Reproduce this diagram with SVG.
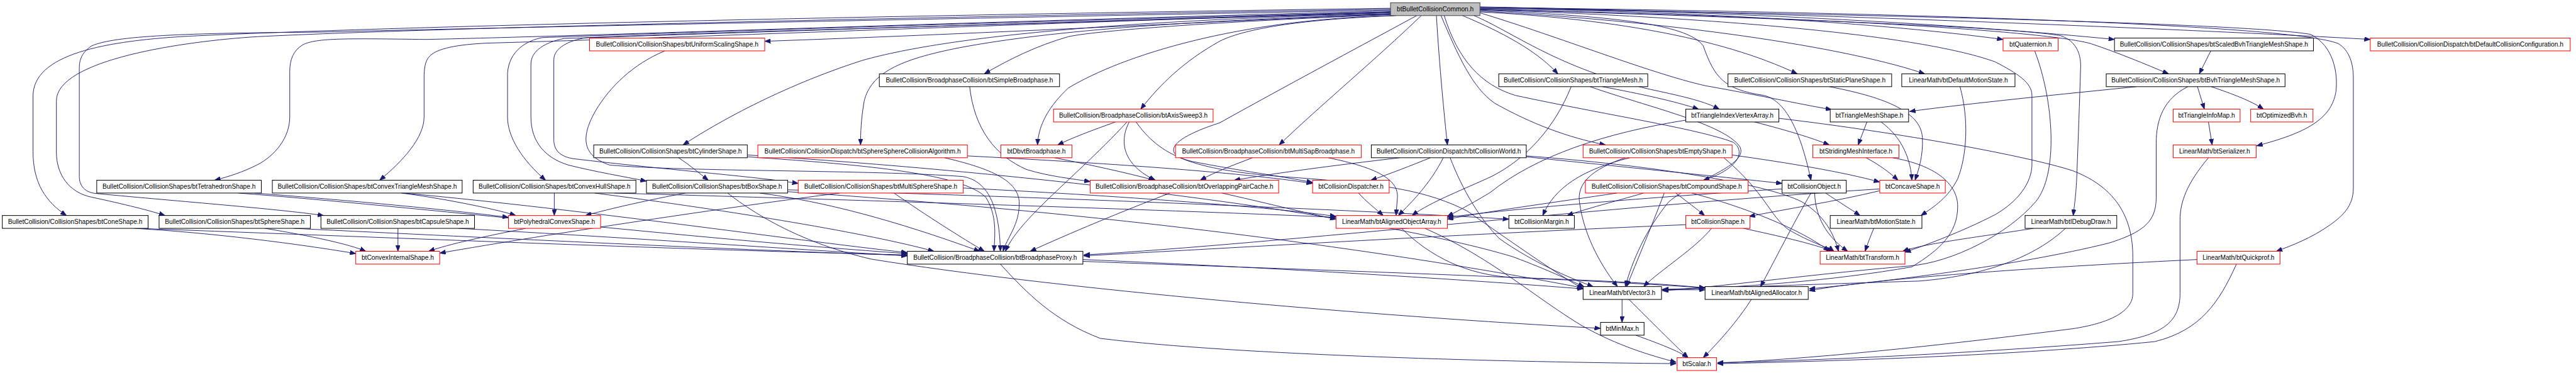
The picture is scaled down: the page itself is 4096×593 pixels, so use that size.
<svg xmlns="http://www.w3.org/2000/svg" width="4096" height="593" viewBox="0 0 4096 593">
<defs>
<marker id="a" markerUnits="userSpaceOnUse" markerWidth="13" markerHeight="10" refX="13" refY="5" orient="auto" viewBox="0 0 13 10"><path d="M0,0L13,5L0,10z" fill="#191970" stroke="#191970" stroke-width="1"/></marker>
</defs>
<style>
.e path{fill:none;stroke:#191970;stroke-width:1.3;marker-end:url(#a)}
.n rect{fill:#fff;stroke:#000;stroke-width:1.4}
.n.r rect{stroke:#ff0000}
.n.t rect{fill:#bfbfbf;stroke:#404040}
.n text{font-family:'Liberation Sans',Arial,sans-serif;font-size:14px;text-anchor:middle;fill:#000}
</style>
<rect width="4096" height="593" fill="#fff"/>
<g transform="scale(0.729)">
<g id="connectors" class="e">
<path d="M3033,18 C2200,30 1000,52 430,78 C220,88 72,120 72,210 L72,330 C72,400 100,440 145,470"/>
<path d="M3033,20 C2200,34 1000,58 560,80 C400,90 123,130 123,220 L123,332 C123,380 150,420 200,430 C270,445 330,460 360,470"/>
<path d="M3033,22 C2200,38 1000,62 700,70 C400,72 250,78 200,100 C178,115 173,130 173,150 L173,385 C173,405 185,420 210,422 C400,440 600,455 706,470"/>
<path d="M3033,24 C2200,45 1300,78 930,86 C760,84 690,82 660,98 C640,110 632,130 632,156 L632,255 C632,300 600,340 560,360 C530,375 500,385 468,393"/>
<path d="M3033,26 C2300,50 1400,85 1063,94 C1000,97 950,105 935,125 C927,135 925,150 925,170 L925,255 C925,300 880,350 828,393"/>
<path d="M3033,26 C2300,45 1500,70 1183,82 C1150,88 1110,110 1107,160 L1107,255 C1107,300 1140,350 1190,393"/>
<path d="M3033,27 C2300,48 1500,75 1230,84 C1190,92 1158,110 1158,140 L1158,255 C1158,310 1190,345 1240,360 C1300,375 1360,385 1410,395"/>
<path d="M3033,28 C2300,50 1500,72 1280,82 C1240,88 1208,105 1208,130 L1208,305 C1208,330 1225,342 1250,346 C1450,370 1650,385 1741,400"/>
<path d="M3033,30 C2600,50 2100,75 1668,90"/>
<path d="M3033,30 C2500,42 2080,75 1880,132 C1700,190 1560,270 1490,316"/>
<path d="M3033,31 C2600,45 2300,65 2093,104 C1960,130 1900,160 1885,220 C1878,260 1877,290 1877,316"/>
<path d="M3033,32 C2700,45 2400,65 2330,80 C2260,100 2200,130 2147,161"/>
<path d="M3040,34 C2700,42 2450,120 2330,192 C2290,230 2265,270 2263,316"/>
<path d="M3045,34 C2850,42 2720,60 2660,90 C2580,135 2530,185 2488,238"/>
<path d="M3100,34 C3000,130 2880,230 2790,316"/>
<path d="M3090,34 C2950,110 2800,190 2660,268 C2560,300 2525,335 2600,352 C2700,372 2800,385 2863,398"/>
<path d="M3133,34 C3140,150 3150,250 3157,316"/>
<path d="M3143,34 C3180,120 3210,190 3260,225 C3340,270 3420,300 3502,316"/>
<path d="M3150,34 C3180,130 3230,185 3305,208 C3500,250 3700,280 3780,310 C3810,330 3790,370 3715,393"/>
<path d="M3190,34 C3300,80 3360,120 3398,161"/>
<path d="M3228,22 C3500,35 3680,50 3715,100 C3740,170 3760,195 3847,208 C3900,220 3930,300 3950,393"/>
<path d="M3215,34 C3300,70 3400,150 3600,195 C3680,212 3720,222 3750,238"/>
<path d="M3228,26 C3500,40 3750,80 3920,161"/>
<path d="M3228,28 C3400,80 3600,160 3720,187 C3850,210 3940,230 3995,239"/>
<path d="M3228,24 C3700,50 4050,110 4198,161"/>
<path d="M3228,18 C3700,25 4100,50 4369,86"/>
<path d="M3228,16 C3800,25 4300,55 4612,86"/>
<path d="M3228,15 C4000,30 4900,70 5170,86"/>
<path d="M3228,20 C3900,35 4450,65 4560,95 C4620,115 4680,140 4730,161"/>
<path d="M3228,18 C4000,30 4900,50 5040,75 C5090,100 5100,160 5095,200 C5085,260 5030,290 4922,318"/>
<path d="M3228,16 C4200,28 5000,55 5100,95 C5125,110 5133,140 5133,170 L5133,410 C5133,450 5110,470 5083,490 C5040,520 5000,535 4965,548"/>
<path d="M3228,20 C3900,40 4400,60 4495,78 C4530,90 4540,120 4538,151 C4536,220 4533,300 4530,380 C4528,430 4524,450 4522,470"/>
<path d="M3228,21 C3800,40 4200,80 4352,135 C4400,160 4432,180 4432,208 L4432,358 C4432,400 4400,440 4352,468 C4280,505 4200,535 4155,550"/>
<path d="M3163,344 C3190,415 3230,480 3270,520 C3340,570 3420,605 3475,625"/>
<path d="M3329,340 C3600,360 3850,400 3930,440 C3980,470 4000,510 4010,548"/>
<path d="M3329,342 C3500,360 3750,385 3887,400"/>
<path d="M3120,344 C3080,360 3030,380 2990,393"/>
<path d="M3053,344 C2900,362 2800,375 2692,393"/>
<path d="M3148,344 C3120,400 3080,440 3050,470"/>
<path d="M3958,421 C3960,480 3990,520 4030,548"/>
<path d="M3982,421 C4010,440 4035,455 4057,470"/>
<path d="M3950,421 C3910,490 3870,570 3840,625"/>
<path d="M3887,412 C3600,430 3300,455 3157,474"/>
<path d="M2963,421 C2980,440 3000,455 3017,470"/>
<path d="M4087,498 C4080,515 4074,530 4068,548"/>
<path d="M4275,189 C4295,260 4290,340 4270,390 C4250,430 4220,450 4190,470"/>
<path d="M3553,653 C3600,700 3650,750 3682,780"/>
<path d="M3538,653 L3538,703"/>
<path d="M3624,632 L3719,632"/>
<path d="M3568,731 C3620,750 3660,765 3682,780"/>
<path d="M3820,653 C3790,700 3750,745 3715,780"/>
<path d="M3057,498 C3120,560 3200,600 3300,605 C3500,612 3650,620 3719,628"/>
<path d="M3108,498 C3250,560 3350,650 3450,710 C3530,755 3600,775 3656,790"/>
<path d="M4438,111 C4480,220 4490,380 4440,440 C4380,510 4260,572 4165,580 C3950,598 3750,626 3626,634"/>
<path d="M4878,576 C4840,660 4800,720 4700,745 C4400,775 4000,788 3746,793"/>
<path d="M4792,566 C4500,580 4100,605 3946,634"/>
<path d="M4435,498 C4330,515 4200,530 4150,548"/>
<path d="M4505,498 C4450,550 4350,600 4185,613 C3950,620 3750,628 3626,631"/>
<path d="M4817,344 C4770,400 4755,440 4755,480 L4755,640 C4755,700 4720,730 4620,745 C4300,770 4000,785 3746,791"/>
<path d="M4817,266 L4825,316"/>
<path d="M4793,189 L4808,238"/>
<path d="M4823,189 C4870,205 4910,220 4937,238"/>
<path d="M4660,189 C4500,205 4300,225 4165,243"/>
<path d="M4772,189 C4720,215 4703,260 4703,312 L4703,430 C4703,480 4680,505 4600,530 C4400,580 4100,615 3946,630"/>
<path d="M4822,111 L4797,161"/>
<path d="M4103,266 C4150,300 4168,350 4170,393"/>
<path d="M4072,266 L4053,316"/>
<path d="M4070,344 C4100,360 4120,375 4140,393"/>
<path d="M4128,344 C4220,360 4270,400 4270,450 C4270,510 4230,545 4170,582 C4000,612 3800,627 3626,632"/>
<path d="M3827,266 C3900,285 3950,300 3990,316"/>
<path d="M3677,262 C3500,290 3350,340 3250,420 C3200,450 3170,465 3157,472"/>
<path d="M3880,258 C4150,290 4420,340 4520,372 C4620,410 4652,480 4652,560 L4652,640 C4652,680 4600,705 4520,717 C4300,745 4000,780 3746,792"/>
<path d="M3495,189 C3580,205 3650,220 3705,238"/>
<path d="M3427,189 C3390,280 3330,345 3255,384 C3200,410 3120,440 3080,470"/>
<path d="M3468,189 C3600,235 3760,270 3795,320 C3815,360 3700,390 3640,440 C3590,500 3560,570 3545,625"/>
<path d="M3990,189 C4100,210 4190,240 4193,300 C4195,340 4185,370 4177,393"/>
<path d="M3778,338 C3900,355 4020,375 4100,397"/>
<path d="M3555,344 C3450,370 3390,410 3365,470"/>
<path d="M3545,344 C3470,370 3440,400 3445,440 C3455,520 3500,590 3528,625"/>
<path d="M3760,344 C3850,420 3860,470 3900,500 C3950,530 3990,540 4000,548"/>
<path d="M3655,421 C3680,440 3700,455 3718,470"/>
<path d="M3630,421 C3600,500 3570,570 3548,625"/>
<path d="M3585,421 C3520,440 3460,455 3418,470"/>
<path d="M3527,421 C3400,440 3250,460 3157,478"/>
<path d="M3690,421 C3800,450 3930,500 3990,548"/>
<path d="M3803,498 C3880,515 3950,530 3997,548"/>
<path d="M3733,498 C3700,540 3620,590 3585,625"/>
<path d="M3677,490 C3200,510 2700,540 2364,558"/>
<path d="M4100,416 C4000,440 3900,455 3815,472"/>
<path d="M4100,412 C3500,450 2800,530 2364,556"/>
<path d="M2115,189 C2125,280 2170,340 2240,370 C2290,385 2340,390 2378,396"/>
<path d="M2300,344 C2380,360 2450,375 2518,393"/>
<path d="M2433,266 C2380,285 2340,300 2307,316"/>
<path d="M2458,266 C2400,330 2320,400 2270,450 C2230,490 2205,520 2193,548"/>
<path d="M2463,266 C2440,310 2450,360 2520,393"/>
<path d="M2478,266 C2530,340 2600,370 2795,385 C3000,400 3100,410 3200,460 C3300,530 3400,600 3453,630"/>
<path d="M2897,344 C3000,365 3050,390 3048,430 L3045,470"/>
<path d="M2732,344 C2690,360 2650,375 2618,393"/>
<path d="M2552,421 C2450,460 2330,510 2247,548"/>
<path d="M2665,421 C2750,440 2850,465 2914,478"/>
<path d="M2060,344 C2150,365 2220,390 2223,440 C2225,490 2195,520 2188,548"/>
<path d="M2110,340 C2400,355 2700,375 2863,400"/>
<path d="M1450,111 C1380,140 1330,190 1300,240 C1265,300 1270,340 1330,360 C1500,375 1900,370 2100,385 C2160,395 2180,460 2182,548"/>
<path d="M520,421 C900,450 1500,520 1979,553"/>
<path d="M880,421 C1300,460 1700,520 1979,551"/>
<path d="M1297,421 C1600,460 1900,510 2037,548"/>
<path d="M1340,421 C2000,440 2600,460 2914,474"/>
<path d="M1657,421 C1800,440 1950,480 2137,548"/>
<path d="M1718,414 C2300,430 3000,460 3291,478"/>
<path d="M1718,418 C2500,470 3100,560 3453,628"/>
<path d="M1587,421 C1650,470 1750,530 1900,565 C2300,630 3000,690 3491,716"/>
<path d="M1630,342 C1900,360 2100,380 2150,430 C2175,470 2170,510 2168,548"/>
<path d="M1630,338 C2300,380 3000,470 3300,560 C3380,590 3420,610 3455,625"/>
<path d="M300,498 C900,520 1500,545 1979,556"/>
<path d="M640,498 C1100,520 1600,545 1979,557"/>
<path d="M1000,498 C1400,520 1750,545 1979,558"/>
<path d="M1950,421 C2020,470 2100,520 2147,548"/>
<path d="M2101,410 C2500,430 2800,455 2914,472"/>
<path d="M2362,566 C2800,585 3200,610 3453,630"/>
<path d="M2362,570 C2900,590 3400,605 3719,628"/>
<path d="M2182,576 C2240,640 2300,700 2400,738 C2700,775 3300,790 3656,793"/>
<path d="M293,498 C500,510 700,540 776,553"/>
<path d="M578,498 C680,515 760,532 798,548"/>
<path d="M868,498 L868,548"/>
<path d="M1147,498 C1060,515 980,532 935,548"/>
<path d="M1832,421 C1600,450 1200,510 959,552"/>
<path d="M555,421 C800,440 1000,460 1109,474"/>
<path d="M875,421 C950,430 1080,455 1125,470"/>
<path d="M1209,421 L1209,470"/>
<path d="M1495,421 C1420,435 1330,455 1277,470"/>
<path d="M1480,344 C1505,360 1525,378 1545,393"/>
</g>
<g id="n_T" class="n t"><rect x="3033" y="6" width="195" height="28"/><text x="3130.5" y="25">btBulletCollisionCommon.h</text></g>
<g id="n_US" class="n r"><rect x="1286" y="83" width="382" height="28"/><text x="1477" y="102">BulletCollision/CollisionShapes/btUniformScalingShape.h</text></g>
<g id="n_QT" class="n r"><rect x="4369" y="83" width="120" height="28"/><text x="4429" y="102">btQuaternion.h</text></g>
<g id="n_SB" class="n"><rect x="4612" y="83" width="434" height="28"/><text x="4829" y="102">BulletCollision/CollisionShapes/btScaledBvhTriangleMeshShape.h</text></g>
<g id="n_DCC" class="n r"><rect x="5170" y="83" width="436" height="28"/><text x="5388" y="102">BulletCollision/CollisionDispatch/btDefaultCollisionConfiguration.h</text></g>
<g id="n_SBP" class="n"><rect x="1918" y="161" width="393" height="28"/><text x="2114.5" y="180">BulletCollision/BroadphaseCollision/btSimpleBroadphase.h</text></g>
<g id="n_TM" class="n"><rect x="3269" y="161" width="325" height="28"/><text x="3431.5" y="180">BulletCollision/CollisionShapes/btTriangleMesh.h</text></g>
<g id="n_SP" class="n"><rect x="3769" y="161" width="357" height="28"/><text x="3947.5" y="180">BulletCollision/CollisionShapes/btStaticPlaneShape.h</text></g>
<g id="n_DMS" class="n"><rect x="4148" y="161" width="247" height="28"/><text x="4271.5" y="180">LinearMath/btDefaultMotionState.h</text></g>
<g id="n_BVH" class="n"><rect x="4594" y="161" width="390" height="28"/><text x="4789" y="180">BulletCollision/CollisionShapes/btBvhTriangleMeshShape.h</text></g>
<g id="n_AS3" class="n r"><rect x="2298" y="238" width="348" height="28"/><text x="2472" y="257">BulletCollision/BroadphaseCollision/btAxisSweep3.h</text></g>
<g id="n_TIVA" class="n"><rect x="3677" y="238" width="203" height="28"/><text x="3778.5" y="257">btTriangleIndexVertexArray.h</text></g>
<g id="n_TMS" class="n"><rect x="3992" y="238" width="171" height="28"/><text x="4077.5" y="257">btTriangleMeshShape.h</text></g>
<g id="n_TIM" class="n r"><rect x="4740" y="238" width="146" height="28"/><text x="4813" y="257">btTriangleInfoMap.h</text></g>
<g id="n_OBVH" class="n r"><rect x="4909" y="238" width="136" height="28"/><text x="4977" y="257">btOptimizedBvh.h</text></g>
<g id="n_CYL" class="n"><rect x="1295" y="316" width="335" height="28"/><text x="1462.5" y="335">BulletCollision/CollisionShapes/btCylinderShape.h</text></g>
<g id="n_SSA" class="n r"><rect x="1653" y="316" width="457" height="28"/><text x="1881.5" y="335">BulletCollision/CollisionDispatch/btSphereSphereCollisionAlgorithm.h</text></g>
<g id="n_DBVT" class="n r"><rect x="2183" y="316" width="155" height="28"/><text x="2260.5" y="335">btDbvtBroadphase.h</text></g>
<g id="n_MSAP" class="n r"><rect x="2564" y="316" width="405" height="28"/><text x="2766.5" y="335">BulletCollision/BroadphaseCollision/btMultiSapBroadphase.h</text></g>
<g id="n_CW" class="n"><rect x="2991" y="316" width="338" height="28"/><text x="3160" y="335">BulletCollision/CollisionDispatch/btCollisionWorld.h</text></g>
<g id="n_EMP" class="n r"><rect x="3453" y="316" width="325" height="28"/><text x="3615.5" y="335">BulletCollision/CollisionShapes/btEmptyShape.h</text></g>
<g id="n_SMI" class="n r"><rect x="3954" y="316" width="188" height="28"/><text x="4048" y="335">btStridingMeshInterface.h</text></g>
<g id="n_SER" class="n r"><rect x="4740" y="316" width="181" height="28"/><text x="4830.5" y="335">LinearMath/btSerializer.h</text></g>
<g id="n_TET" class="n"><rect x="211" y="393" width="359" height="28"/><text x="390.5" y="412">BulletCollision/CollisionShapes/btTetrahedronShape.h</text></g>
<g id="n_CTM" class="n"><rect x="594" y="393" width="414" height="28"/><text x="801" y="412">BulletCollision/CollisionShapes/btConvexTriangleMeshShape.h</text></g>
<g id="n_CHS" class="n"><rect x="1032" y="393" width="355" height="28"/><text x="1209.5" y="412">BulletCollision/CollisionShapes/btConvexHullShape.h</text></g>
<g id="n_BOX" class="n"><rect x="1410" y="393" width="308" height="28"/><text x="1564" y="412">BulletCollision/CollisionShapes/btBoxShape.h</text></g>
<g id="n_MSS" class="n r"><rect x="1741" y="393" width="360" height="28"/><text x="1921" y="412">BulletCollision/CollisionShapes/btMultiSphereShape.h</text></g>
<g id="n_OPC" class="n r"><rect x="2378" y="393" width="411" height="28"/><text x="2583.5" y="412">BulletCollision/BroadphaseCollision/btOverlappingPairCache.h</text></g>
<g id="n_CD" class="n r"><rect x="2863" y="393" width="167" height="28"/><text x="2946.5" y="412">btCollisionDispatcher.h</text></g>
<g id="n_CMP" class="n r"><rect x="3458" y="393" width="355" height="28"/><text x="3635.5" y="412">BulletCollision/CollisionShapes/btCompoundShape.h</text></g>
<g id="n_CO" class="n"><rect x="3887" y="393" width="140" height="28"/><text x="3957" y="412">btCollisionObject.h</text></g>
<g id="n_CC" class="n r"><rect x="4100" y="393" width="143" height="28"/><text x="4171.5" y="412">btConcaveShape.h</text></g>
<g id="n_CONE" class="n"><rect x="5" y="470" width="318" height="28"/><text x="164" y="489">BulletCollision/CollisionShapes/btConeShape.h</text></g>
<g id="n_SPH" class="n"><rect x="347" y="470" width="330" height="28"/><text x="512" y="489">BulletCollision/CollisionShapes/btSphereShape.h</text></g>
<g id="n_CAP" class="n"><rect x="700" y="470" width="335" height="28"/><text x="867.5" y="489">BulletCollision/CollisionShapes/btCapsuleShape.h</text></g>
<g id="n_PCS" class="n r"><rect x="1109" y="470" width="201" height="28"/><text x="1209.5" y="489">btPolyhedralConvexShape.h</text></g>
<g id="n_AOA" class="n r"><rect x="2914" y="470" width="243" height="28"/><text x="3035.5" y="489">LinearMath/btAlignedObjectArray.h</text></g>
<g id="n_CM" class="n"><rect x="3291" y="470" width="143" height="28"/><text x="3362.5" y="489">btCollisionMargin.h</text></g>
<g id="n_CS" class="n r"><rect x="3677" y="470" width="140" height="28"/><text x="3747" y="489">btCollisionShape.h</text></g>
<g id="n_MS" class="n"><rect x="3992" y="470" width="200" height="28"/><text x="4092" y="489">LinearMath/btMotionState.h</text></g>
<g id="n_IDD" class="n"><rect x="4417" y="470" width="200" height="28"/><text x="4517" y="489">LinearMath/btIDebugDraw.h</text></g>
<g id="n_CIS" class="n r"><rect x="776" y="548" width="183" height="28"/><text x="867.5" y="567">btConvexInternalShape.h</text></g>
<g id="n_BPP" class="n"><rect x="1979" y="548" width="383" height="28"/><text x="2170.5" y="567">BulletCollision/BroadphaseCollision/btBroadphaseProxy.h</text></g>
<g id="n_TR" class="n r"><rect x="3970" y="548" width="185" height="28"/><text x="4062.5" y="567">LinearMath/btTransform.h</text></g>
<g id="n_QP" class="n r"><rect x="4792" y="548" width="181" height="28"/><text x="4882.5" y="567">LinearMath/btQuickprof.h</text></g>
<g id="n_V3" class="n"><rect x="3453" y="625" width="171" height="28"/><text x="3538.5" y="644">LinearMath/btVector3.h</text></g>
<g id="n_AA" class="n"><rect x="3719" y="625" width="225" height="28"/><text x="3831.5" y="644">LinearMath/btAlignedAllocator.h</text></g>
<g id="n_MM" class="n"><rect x="3491" y="703" width="95" height="28"/><text x="3538.5" y="722">btMinMax.h</text></g>
<g id="n_SC" class="n r"><rect x="3658" y="780" width="86" height="28"/><text x="3701" y="799">btScalar.h</text></g>
</g>
</svg>
